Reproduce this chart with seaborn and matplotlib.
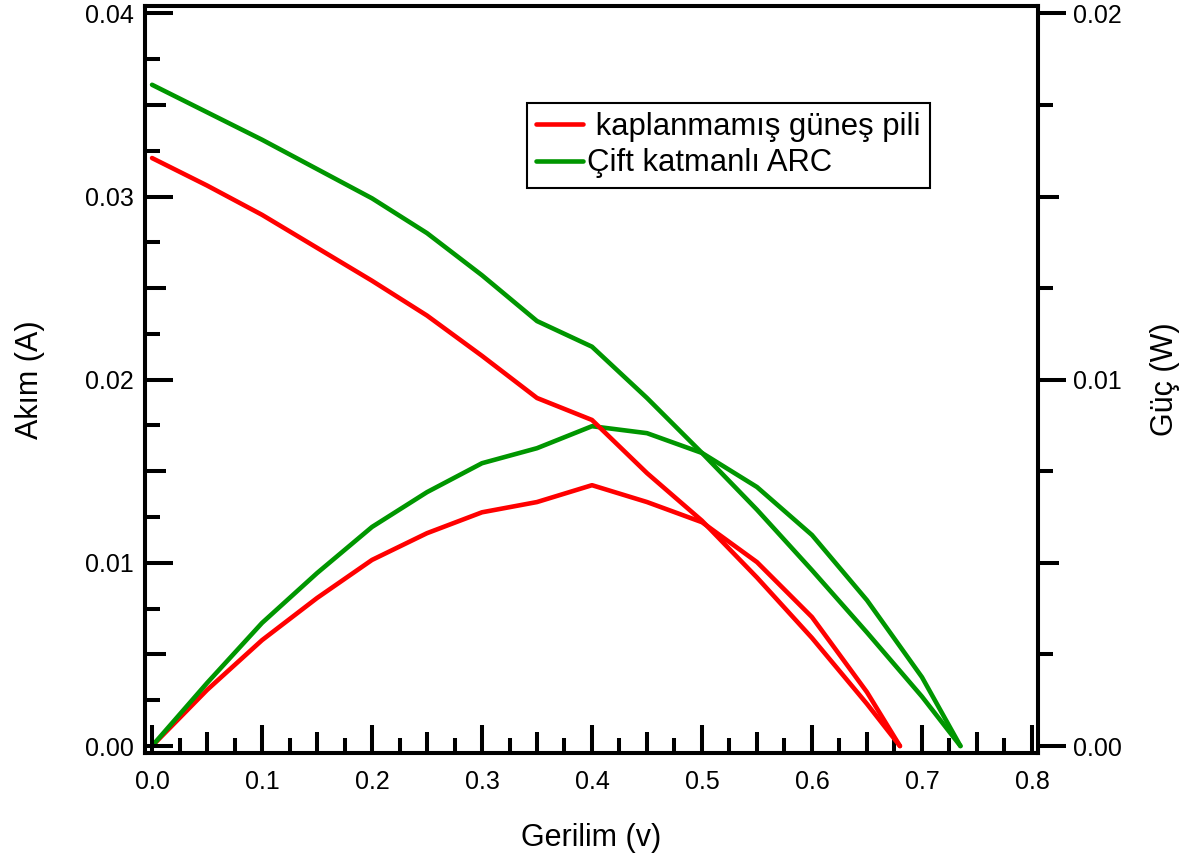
import numpy as np
import pandas as pd
import matplotlib
matplotlib.use("Agg")
import matplotlib.pyplot as plt
from matplotlib.ticker import MultipleLocator, FuncFormatter
import seaborn as sns

# Voltage sweep (V), current (A) and power (W) for the two cells
voltage_bare = [0.0, 0.05, 0.10, 0.15, 0.20, 0.25, 0.30, 0.35, 0.40, 0.45, 0.50, 0.55, 0.60, 0.65, 0.68]
current_bare = [0.0321, 0.0306, 0.0290, 0.0272, 0.0254, 0.0235, 0.0213, 0.0190, 0.0178, 0.0149,
                0.0123, 0.0092, 0.0059, 0.0023, 0.0]
power_bare = [0.0, 0.00153, 0.00289, 0.00404, 0.00508, 0.00581, 0.00638, 0.00666, 0.00712, 0.00666,
              0.00611, 0.00502, 0.00352, 0.00147, 0.0]

voltage_arc = [0.0, 0.05, 0.10, 0.15, 0.20, 0.25, 0.30, 0.35, 0.40, 0.45, 0.50, 0.55, 0.60, 0.65, 0.70, 0.735]
current_arc = [0.0361, 0.0346, 0.0331, 0.0315, 0.0299, 0.0280, 0.0257, 0.0232, 0.0218, 0.0190,
               0.0160, 0.0129, 0.0096, 0.0062, 0.0027, 0.0]
power_arc = [0.0, 0.00172, 0.00336, 0.00472, 0.00598, 0.00693, 0.00772, 0.00813, 0.00873, 0.00854,
             0.00800, 0.00707, 0.00576, 0.00398, 0.00188, 0.0]

labels = [" kaplanmamış güneş pili", "Çift katmanlı ARC"]
colors = ["#ff0000", "#009600"]

sns.set_style("white")
plt.rcParams["font.family"] = ["Liberation Sans", "DejaVu Sans"]
plt.rcParams["text.color"] = "black"
plt.rcParams["axes.labelcolor"] = "black"
plt.rcParams["xtick.color"] = "black"
plt.rcParams["ytick.color"] = "black"

fig = plt.figure(figsize=(11.97, 8.66), dpi=100)
ax = fig.add_axes([145 / 1197, 1 - 753 / 866, (1038 - 145) / 1197, (753 - 6) / 866])
ax2 = ax.twinx()

lw = 3.3
sns.lineplot(x=voltage_bare, y=current_bare, ax=ax, color=colors[0], linewidth=lw, label=labels[0], sort=False)
sns.lineplot(x=voltage_arc, y=current_arc, ax=ax, color=colors[1], linewidth=lw, label=labels[1], sort=False)
sns.lineplot(x=voltage_bare, y=power_bare, ax=ax2, color=colors[0], linewidth=lw, sort=False)
sns.lineplot(x=voltage_arc, y=power_arc, ax=ax2, color=colors[1], linewidth=lw, sort=False)

ax.set_xlim(-0.0064, 0.8055)
ax.set_ylim(-0.00038, 0.0404)
ax2.set_ylim(-0.00019, 0.0202)

spine_w = 2.9
for a in (ax, ax2):
    for s in a.spines.values():
        s.set_linewidth(spine_w)
        s.set_color("black")
        s.set_visible(True)

tick_fs = 18
# x axis: labelled ticks every 0.1, mid ticks at 0.05, small ticks at 0.025
ax.xaxis.set_major_locator(MultipleLocator(0.05))
ax.xaxis.set_minor_locator(MultipleLocator(0.025))
ax.xaxis.set_major_formatter(FuncFormatter(
    lambda v, p: f"{v:.1f}" if abs(round(v * 10) - v * 10) < 1e-6 else ""))
ax.tick_params(axis="x", which="both", direction="in", bottom=True, top=False,
               width=spine_w, labelsize=tick_fs, pad=12, colors="black")
ax.tick_params(axis="x", which="major", length=15)
ax.tick_params(axis="x", which="minor", length=11)

# left axis: current
ax.yaxis.set_major_locator(MultipleLocator(0.005))
ax.yaxis.set_minor_locator(MultipleLocator(0.0025))
ax.yaxis.set_major_formatter(FuncFormatter(
    lambda v, p: f"{v:.2f}" if abs(round(v * 100) - v * 100) < 1e-6 else ""))
ax.tick_params(axis="y", which="both", direction="in", left=True, right=False,
               width=spine_w, labelsize=tick_fs, pad=8, colors="black")
ax.tick_params(axis="y", which="major", length=15)
ax.tick_params(axis="y", which="minor", length=11)

# right axis: power
ax2.yaxis.set_major_locator(MultipleLocator(0.005))
ax2.yaxis.set_minor_locator(MultipleLocator(0.0025))
ax2.yaxis.set_major_formatter(FuncFormatter(
    lambda v, p: f"{v:.2f}" if abs(round(v * 100) - v * 100) < 1e-6 else ""))
ax2.tick_params(axis="y", which="both", direction="out", right=True, left=False,
                width=spine_w, labelsize=tick_fs, pad=10, colors="black")
ax2.tick_params(axis="y", which="major", length=15)
ax2.tick_params(axis="y", which="minor", length=11)

fig.canvas.draw()


def lengthen(axis, step, long_len):
    locs = axis.get_majorticklocs()
    ticks = axis.get_major_ticks(len(locs))
    for loc, t in zip(locs, ticks):
        if abs(round(loc / step) - loc / step) < 1e-6:
            t.tick1line.set_markersize(long_len)
            t.tick2line.set_markersize(long_len)


lengthen(ax.xaxis, 0.1, 20)
lengthen(ax.yaxis, 0.01, 20)
lengthen(ax2.yaxis, 0.01, 20)

label_fs = 22
ax.set_xlabel("Gerilim (v)", fontsize=label_fs, color="black")
ax.xaxis.label.set_va("center")
ax.xaxis.set_label_coords(0.5, -(838 - 753) / 747)
ax.set_ylabel("Akım (A)", fontsize=label_fs, color="black")
ax.yaxis.label.set_va("center")
ax.yaxis.set_label_coords((30 - 145) / 893, 0.5)
ax2.set_ylabel("Güç (W)", fontsize=label_fs, rotation=90, color="black")
ax2.yaxis.label.set_va("center")
ax2.yaxis.set_label_coords((1165 - 145) / 893, 0.5)

handles, labs = ax.get_legend_handles_labels()
leg = ax.legend(handles, labs, loc="upper left", bbox_to_anchor=((527 - 145) / 893, 1 - (103 - 6) / 747),
                borderaxespad=0, fontsize=22.3, frameon=True, fancybox=False, framealpha=1,
                edgecolor="black", handlelength=1.5, handletextpad=0.15, labelspacing=0.2,
                borderpad=0.3)
leg.get_frame().set_linewidth(1.5)
for t in leg.get_texts():
    t.set_color("black")
ax.set_zorder(ax2.get_zorder() + 1)
ax.patch.set_visible(False)

fig.savefig("out.png", dpi=100)
